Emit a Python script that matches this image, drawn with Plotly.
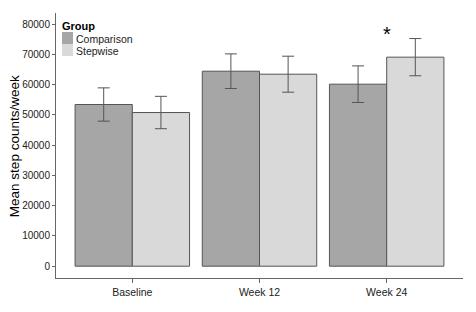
import plotly.graph_objects as go

categories = ["Baseline", "Week 12", "Week 24"]
groups = ["Comparison", "Stepwise"]
comparison_mean = [53450, 64460, 60170]
comparison_err = [5500, 5720, 6050]
stepwise_mean = [50800, 63470, 69100]
stepwise_err = [5350, 5950, 6150]
y_ticks = [0, 10000, 20000, 30000, 40000, 50000, 60000, 70000, 80000]
signif_label = "*"
signif_category = "Week 24"
signif_y = 76600

colors = {"Comparison": "#A6A6A6", "Stepwise": "#D9D9D9"}
outline = "#555555"
font_family = "Liberation Sans, Arial"

# page body has an 8px default margin; compensate
OFF = 8
L, W, T, H = 56, 407, 13, 264.7

fig = go.Figure()
for i, (name, means, errs) in enumerate([("Comparison", comparison_mean, comparison_err),
                                         ("Stepwise", stepwise_mean, stepwise_err)]):
    fig.add_trace(go.Bar(
        x=categories, y=means, name=name, showlegend=False,
        width=0.45, offset=-0.45 + 0.45 * i,
        marker=dict(color=colors[name], line=dict(color=outline, width=1)),
        error_y=dict(type="data", array=errs, color="#555555", thickness=1, width=6),
    ))

fig.add_annotation(x=signif_category, y=signif_y, text=signif_label, showarrow=False,
                   font=dict(size=20, color="black", family=font_family),
                   yanchor="middle")

px = lambda v: (v - L) / W
py = lambda v: 1 - (v - T) / H

# y axis title
fig.add_annotation(xref="paper", yref="paper", x=px(14.5), y=py(146.5),
                   text="Mean step counts/week", textangle=-90, showarrow=False,
                   xanchor="center", yanchor="middle",
                   font=dict(size=13.5, color="black", family=font_family))

# legend (ggplot-style, inside top-left)
fig.add_annotation(xref="paper", yref="paper", x=px(60), y=py(26), text="<b>Group</b>",
                   showarrow=False, xanchor="left", yanchor="middle",
                   font=dict(size=11, color="black", family=font_family))
for j, name in enumerate(groups):
    y0 = 32 + 12 * j
    fig.add_shape(type="rect", xref="paper", yref="paper",
                  x0=px(62), x1=px(73), y0=py(y0), y1=py(y0 + 12),
                  fillcolor=colors[name], line=dict(width=0), layer="above")
    fig.add_annotation(xref="paper", yref="paper", x=px(74), y=py(y0 + 6.5), text=name,
                       showarrow=False, xanchor="left", yanchor="middle",
                       font=dict(size=10.5, color="#222", family=font_family))

fig.update_layout(
    width=476, height=312,
    margin=dict(l=L - OFF, r=476 - (L - OFF) - W, t=T - OFF, b=312 - (T - OFF) - H),
    paper_bgcolor="white", plot_bgcolor="white",
    barmode="overlay",
    showlegend=False,
    font=dict(family=font_family, size=10, color="#222"),
    xaxis=dict(
        range=[-0.6, 2.6], showline=True, linecolor="#666", linewidth=1,
        ticks="outside", ticklen=4, tickcolor="#666", showgrid=False,
        tickfont=dict(size=10.5, color="#222"), automargin=False,
    ),
    yaxis=dict(
        range=[-3900, 83700], tickvals=y_ticks, tickformat="d",
        showline=True, linecolor="#666", linewidth=1,
        ticks="outside", ticklen=3, tickcolor="#666", showgrid=False, zeroline=False,
        tickfont=dict(size=10, color="#222"), automargin=False,
    ),
)

fig.write_html("out.html")
